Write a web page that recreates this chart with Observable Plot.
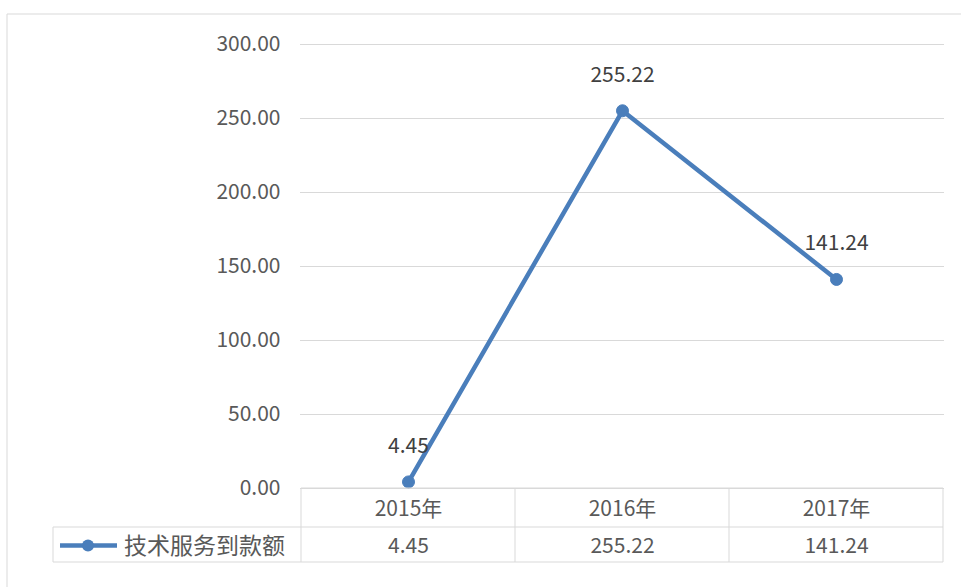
<!DOCTYPE html>
<html><head><meta charset="utf-8">
<script src="https://cdn.jsdelivr.net/npm/d3@7"></script>
<script src="https://cdn.jsdelivr.net/npm/@observablehq/plot@0.6"></script>
<style>
html,body{margin:0;padding:0;background:#fff;}
#chart{position:relative;width:961px;height:587px;}
svg{font-family:"Noto Sans CJK SC","Noto Sans",sans-serif;}
</style>
</head><body><div id="chart"></div>
<script>
const years = ["2015年", "2016年", "2017年"];
const values = [4.45, 255.22, 141.24];
const seriesName = "技术服务到款额";
const yTicks = [0, 50, 100, 150, 200, 250, 300];

const data = years.map((y, i) => ({year: y, value: values[i]}));
const color = "#4a7ebb";
const textColor = "#595959";
const fs = 21;

const chart = Plot.plot({
  width: 961,
  height: 587,
  marginLeft: 300,
  marginRight: 17,
  marginTop: 44,
  marginBottom: 99,
  style: {fontSize: fs + "px", fontFamily: '"Noto Sans CJK SC","Noto Sans",sans-serif', color: textColor, background: "#fff"},
  x: {type: "band", domain: years, padding: 0, axis: null},
  y: {domain: [0, 300], ticks: yTicks, tickFormat: d => d.toFixed(2), tickSize: 0, tickPadding: 20, label: null},
  marks: [
    Plot.ruleY(yTicks, {stroke: "#d9d9d9", strokeWidth: 1}),
    Plot.axisY({ticks: yTicks, tickFormat: d => d.toFixed(2), tickSize: 0, tickPadding: 20, label: null, fill: textColor, fontSize: fs}),
    Plot.line(data, {x: "year", y: "value", stroke: color, strokeWidth: 4.5}),
    Plot.dot(data, {x: "year", y: "value", fill: color, r: 6, stroke: color, strokeWidth: 1}),
    Plot.text(data, {x: "year", y: "value", text: d => d.value.toFixed(2), dy: -36, fill: "#404040", fontSize: fs}),
    Plot.text(data, {x: "year", text: "year", frameAnchor: "bottom", dy: 27, fill: textColor, fontSize: fs}),
    Plot.text(data, {x: "year", text: d => d.value.toFixed(2), frameAnchor: "bottom", dy: 64, fill: textColor, fontSize: fs})
  ]
});

const svg = d3.select(chart);
const xs = chart.scale("x");
const bw = xs.bandwidth;
const edges = [xs.apply(years[0]) , ...years.map(y => xs.apply(y) + bw)];
const y0 = chart.scale("y").apply(0);
const rowTop = y0, rowMid = y0 + 39, rowBot = y0 + 74;
const left = 53;
const g = svg.append("g").attr("stroke", "#d9d9d9").attr("stroke-width", 1).attr("fill", "none");
g.append("line").attr("x1", edges[0]).attr("x2", edges[edges.length-1]).attr("y1", rowTop).attr("y2", rowTop);
g.append("line").attr("x1", left).attr("x2", edges[edges.length-1]).attr("y1", rowMid).attr("y2", rowMid);
g.append("line").attr("x1", left).attr("x2", edges[edges.length-1]).attr("y1", rowBot).attr("y2", rowBot);
edges.forEach(x => g.append("line").attr("x1", x).attr("x2", x).attr("y1", rowTop).attr("y2", rowBot));
g.append("line").attr("x1", left).attr("x2", left).attr("y1", rowMid).attr("y2", rowBot);
// outer chart border
g.append("line").attr("x1", 7).attr("x2", 961).attr("y1", 14).attr("y2", 14);
g.append("line").attr("x1", 7).attr("x2", 7).attr("y1", 14).attr("y2", 587);
// legend key
const ly = (rowMid + rowBot) / 2 + 1;
const lg = svg.append("g");
lg.append("line").attr("x1", 60).attr("x2", 117).attr("y1", ly).attr("y2", ly).attr("stroke", color).attr("stroke-width", 4.5);
lg.append("circle").attr("cx", 88).attr("cy", ly).attr("r", 6).attr("fill", color);
lg.append("text").attr("x", 124).attr("y", ly).attr("dy", "0.35em").attr("text-anchor", "start").attr("fill", textColor).attr("font-size", 23).text(seriesName);

document.getElementById("chart").appendChild(chart);
</script>
</body></html>
